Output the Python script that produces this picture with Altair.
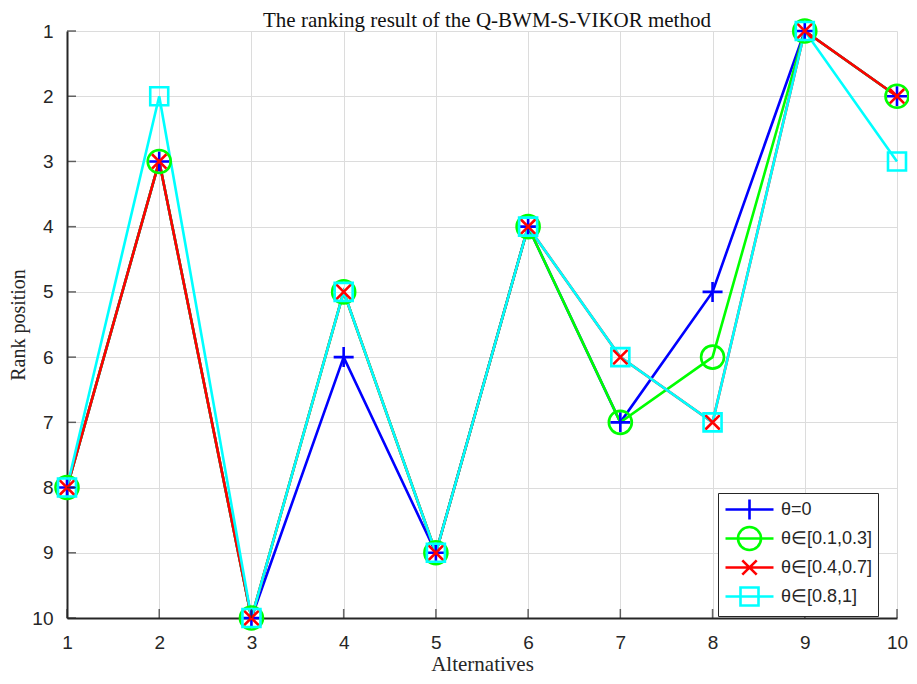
import altair as alt
import pandas as pd

alternatives = [1, 2, 3, 4, 5, 6, 7, 8, 9, 10]
series_names = ["θ=0", "θ∈[0.1,0.3]", "θ∈[0.4,0.7]", "θ∈[0.8,1]"]
rank_theta0 = [8, 3, 10, 6, 9, 4, 7, 5, 1, 2]
rank_theta01_03 = [8, 3, 10, 5, 9, 4, 7, 6, 1, 2]
rank_theta04_07 = [8, 3, 10, 5, 9, 4, 6, 7, 1, 2]
rank_theta08_1 = [8, 2, 10, 5, 9, 4, 6, 7, 1, 3]
colors = ["#0000FF", "#00FF00", "#FF0000", "#00FFFF"]
tick_values = [1, 2, 3, 4, 5, 6, 7, 8, 9, 10]

# marker shapes (unit = sqrt(size)/2)
CIRCLE = ("M1.15,0C1.15,0.635,0.635,1.15,0,1.15C-0.635,1.15,-1.15,0.635,-1.15,0"
          "C-1.15,-0.635,-0.635,-1.15,0,-1.15C0.635,-1.15,1.15,-0.635,1.15,0Z")
marker_paths = [
    "M-1,0H1M0,-1V1",
    CIRCLE,
    "M-0.72,-0.72L0.72,0.72M-0.72,0.72L0.72,-0.72",
    "M-0.9,-0.9H0.9V0.9H-0.9Z",
]
legend_paths = [
    "M-2.4,0H2.4M0,-1V1",
    "M-2.4,0H2.4M" + CIRCLE[1:],
    "M-2.4,0H2.4M-0.72,-0.72L0.72,0.72M-0.72,0.72L0.72,-0.72",
    "M-2.4,0H2.4M-0.9,-0.9H0.9V0.9H-0.9Z",
]

all_ranks = [rank_theta0, rank_theta01_03, rank_theta04_07, rank_theta08_1]
rows = []
for name, ranks in zip(series_names, all_ranks):
    for a, r in zip(alternatives, ranks):
        rows.append({"series": name, "alt": a, "rank": r})
df = pd.DataFrame(rows)
ticks_df = pd.DataFrame({"v": tick_values})

PAD_L, PAD_T = 59, 23
W, H = 830, 587

x_scale = alt.Scale(domain=[1, 10], nice=False, zero=False)
y_scale = alt.Scale(domain=[1, 10], nice=False, zero=False, reverse=True)

x_axis = alt.Axis(
    values=tick_values, format="d", title="Alternatives", grid=True, gridColor="#dcdcdc",
    gridWidth=1, domainColor="#262626", domainWidth=2, tickSize=0, labelFlush=False,
    labelFont="Liberation Sans", labelFontSize=19, labelColor="#262626",
    labelPadding=15, titleFont="Liberation Serif", titleFontSize=21,
    titleFontWeight="normal", titleColor="#262626", titlePadding=1,
)
y_axis = alt.Axis(
    values=tick_values, format="d", title="Rank position", grid=True, gridColor="#dcdcdc",
    gridWidth=1, domainColor="#262626", domainWidth=2, tickSize=0, labelFlush=False,
    labelFont="Liberation Sans", labelFontSize=19, labelColor="#262626",
    labelPadding=14, titleFont="Liberation Serif", titleFontSize=20,
    titleFontWeight="normal", titleColor="#262626", titlePadding=3,
)

color_scale = alt.Scale(domain=series_names, range=colors)

base = alt.Chart(df)

line_layers = []
point_layers = []
for i, (name, path, col) in enumerate(zip(series_names, marker_paths, colors)):
    sub = base.transform_filter(alt.datum.series == name)
    if i == 0:
        enc = dict(x=alt.X("alt:Q", scale=x_scale, axis=x_axis),
                   y=alt.Y("rank:Q", scale=y_scale, axis=y_axis))
    else:
        enc = dict(x=alt.X("alt:Q", scale=x_scale), y=alt.Y("rank:Q", scale=y_scale))
    line_layers.append(sub.mark_line(strokeWidth=2.6, color=col).encode(**enc))
    point_layers.append(
        sub.mark_point(shape=path, size=400, filled=False, strokeWidth=2.6, color=col, opacity=1)
        .encode(x=alt.X("alt:Q", scale=x_scale), y=alt.Y("rank:Q", scale=y_scale))
    )

legend_kw = dict(
    title=None, orient="none", legendX=651, legendY=462,
    fillColor="white", strokeColor="#262626", padding=5,
    labelFont="Liberation Sans", labelFontSize=18, labelColor="#262626",
    symbolSize=400, symbolStrokeWidth=2.6, symbolOffset=15, labelOffset=20,
    rowPadding=-16, gridAlign="all", symbolFillColor="transparent", symbolOpacity=1,
)

legend_layer = base.mark_point(filled=False, strokeWidth=2.6, opacity=0).encode(
    x=alt.X("alt:Q", scale=x_scale),
    y=alt.Y("rank:Q", scale=y_scale),
    color=alt.Color("series:N", scale=color_scale, legend=alt.Legend(**legend_kw)),
    shape=alt.Shape("series:N", scale=alt.Scale(domain=series_names, range=legend_paths),
                    legend=alt.Legend(**legend_kw)),
)

xticks = alt.Chart(ticks_df).mark_tick(color="#262626", thickness=1.5, size=9).encode(
    x=alt.X("v:Q", scale=x_scale), y=alt.value(H - 4.5)
)
yticks = alt.Chart(ticks_df).mark_tick(color="#262626", thickness=1.5, size=9).encode(
    y=alt.Y("v:Q", scale=y_scale), x=alt.value(4.5)
)

chart = alt.layer(*line_layers, *point_layers, legend_layer, xticks, yticks).properties(
    width=W, height=H,
    title=alt.TitleParams(
        "The ranking result of the Q-BWM-S-VIKOR method",
        font="Liberation Serif", fontSize=21, fontWeight="normal", color="#111111",
        anchor="middle", offset=0, dy=17, dx=5, frame="group",
    ),
    autosize=alt.AutoSizeParams(type="none"),
    padding={"left": PAD_L, "top": PAD_T, "right": 901 - PAD_L - W, "bottom": 668 - PAD_T - H},
).configure_view(stroke=None)

chart.save("out.html", embed_options={"renderer": "svg", "actions": False})
